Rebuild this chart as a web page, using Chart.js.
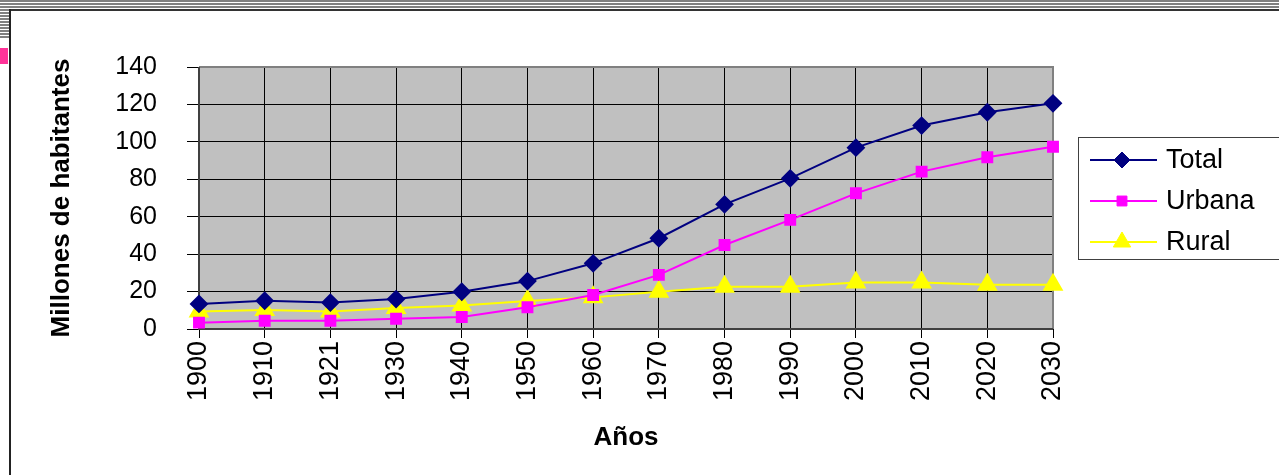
<!DOCTYPE html>
<html>
<head>
<meta charset="utf-8">
<script src="https://cdn.jsdelivr.net/npm/chart.js@4/dist/chart.umd.min.js"></script>
<style>
  html, body { margin: 0; padding: 0; background: #fff; }
  #wrap { position: relative; width: 1279px; height: 475px; overflow: hidden; }
  /* rayas de arriba y marco de la hoja */
  #rayas { position: absolute; left: 0; top: 0; width: 1279px; height: 10px;
    background: repeating-linear-gradient(to bottom, #808080 0, #808080 2px, #fff 2px, #fff 3px); }
  #rayasIzq { position: absolute; left: 0; top: 0; width: 9px; height: 38px;
    background: repeating-linear-gradient(to bottom, #808080 0, #808080 2px, #fff 2px, #fff 3px); }
  #lineaTop { position: absolute; left: 9px; top: 9px; width: 1270px; height: 2px; background: #333; }
  #lineaIzq { position: absolute; left: 9px; top: 9px; width: 2px; height: 466px; background: #222; }
  #rosa { position: absolute; left: 0; top: 48px; width: 8px; height: 16px; background: #ff3399; }
  canvas { position: absolute; left: 0; top: 0; }
</style>
</head>
<body>
<div id="wrap">
  <div id="rayas"></div>
  <div id="rayasIzq"></div>
  <div id="lineaTop"></div>
  <div id="lineaIzq"></div>
  <div id="rosa"></div>
  <canvas id="grafico" width="1279" height="475"></canvas>
</div>
<script>
// Datos del gráfico
const anios = ["1900", "1910", "1921", "1930", "1940", "1950", "1960", "1970", "1980", "1990", "2000", "2010", "2020", "2030"];
const total = [13.4, 15.1, 14.1, 16.0, 19.9, 25.6, 35.1, 48.5, 66.6, 80.5, 96.9, 108.7, 115.8, 120.6];
const urbana = [3.4, 4.4, 4.4, 5.5, 6.4, 11.6, 18.2, 28.9, 44.9, 58.3, 72.5, 84.1, 91.8, 97.4];
const rural = [9.3, 10.2, 9.3, 11.2, 12.5, 15.0, 16.9, 19.9, 22.6, 22.6, 24.8, 24.8, 23.7, 23.6];
const ticksY = [0, 20, 40, 60, 80, 100, 120, 140];

const FUENTE = "'Liberation Sans', Arial, sans-serif";

// Fondo gris del área y borde gris arriba/derecha
const fondoPlot = {
  id: "fondoPlot",
  beforeDraw(chart) {
    const a = chart.chartArea, ctx = chart.ctx;
    ctx.save();
    ctx.fillStyle = "#c0c0c0";
    ctx.fillRect(a.left, a.top, a.right - a.left, a.bottom - a.top);
    ctx.restore();
  },
  beforeDatasetsDraw(chart) {
    const a = chart.chartArea, ctx = chart.ctx;
    ctx.save();
    ctx.strokeStyle = "#808080";
    ctx.lineWidth = 2;
    ctx.beginPath();
    ctx.moveTo(a.left, a.top);
    ctx.lineTo(a.right, a.top);
    ctx.lineTo(a.right, a.bottom);
    ctx.stroke();
    ctx.strokeStyle = "#404040";
    ctx.beginPath();
    ctx.moveTo(a.left, a.top);
    ctx.lineTo(a.left, a.bottom);
    ctx.lineTo(a.right, a.bottom);
    ctx.stroke();
    ctx.restore();
  }
};

// Leyenda dibujada a mano, como la del original (recuadro cortado a la derecha)
const leyenda = {
  id: "leyenda",
  afterDraw(chart) {
    const ctx = chart.ctx;
    ctx.save();
    ctx.strokeStyle = "#404040";
    ctx.lineWidth = 1;
    ctx.strokeRect(1078.5, 137.5, 260, 122);
    chart.data.datasets.forEach(function (ds, i) {
      const y = 160 + i * 41;
      ctx.strokeStyle = ds.borderColor;
      ctx.lineWidth = 2;
      ctx.beginPath();
      ctx.moveTo(1090, y);
      ctx.lineTo(1157, y);
      ctx.stroke();
      ctx.fillStyle = ds.pointBackgroundColor;
      ctx.strokeStyle = ds.pointBorderColor;
      ctx.lineWidth = 1;
      Chart.helpers.drawPoint(ctx, { pointStyle: ds.pointStyle, radius: ds.pointRadius, rotation: 0, borderWidth: 1 }, 1122, y);
      ctx.fillStyle = "#000";
      ctx.font = "27px " + FUENTE;
      ctx.textBaseline = "middle";
      ctx.fillText(ds.label, 1166, y + 1);
    });
    ctx.restore();
  }
};

const ctx = document.getElementById("grafico").getContext("2d");
new Chart(ctx, {
  type: "line",
  data: {
    labels: anios,
    datasets: [
      {
        label: "Total", data: total,
        borderColor: "#000080", backgroundColor: "#000080",
        pointBackgroundColor: "#000080", pointBorderColor: "#000080",
        pointStyle: "rectRot", pointRadius: 8, borderWidth: 2
      },
      {
        label: "Urbana", data: urbana,
        borderColor: "#ff00ff", backgroundColor: "#ff00ff",
        pointBackgroundColor: "#ff00ff", pointBorderColor: "#ff00ff",
        pointStyle: "rect", pointRadius: 7, borderWidth: 2
      },
      {
        label: "Rural", data: rural,
        borderColor: "#ffff00", backgroundColor: "#ffff00",
        pointBackgroundColor: "#ffff00", pointBorderColor: "#ffff00",
        pointStyle: "triangle", pointRadius: 10, borderWidth: 2
      }
    ]
  },
  options: {
    responsive: false,
    animation: false,
    layout: { padding: { left: 46, top: 67, right: 226, bottom: 22 } },
    plugins: { legend: { display: false }, tooltip: { enabled: false } },
    scales: {
      x: {
        offset: false,
        afterFit(s) { s.height = 124; },
        grid: { color: "#000", lineWidth: 1, tickLength: 9, tickColor: "#000" },
        border: { display: false },
        ticks: {
          minRotation: 90, maxRotation: 90, autoSkip: false, padding: 3,
          color: "#000", font: { family: FUENTE, size: 27 }
        },
        title: {
          display: true, text: "Años", color: "#000",
          font: { family: FUENTE, size: 26, weight: "bold" },
          padding: { top: 0, bottom: 0 }
        }
      },
      y: {
        min: 0, max: 140,
        afterFit(s) { s.width = 153; },
        afterBuildTicks(s) { s.ticks = ticksY.map(v => ({ value: v })); },
        grid: { color: "#000", lineWidth: 1, tickLength: 12, tickColor: "#000" },
        border: { display: false },
        ticks: {
          padding: 30, color: "#000", font: { family: FUENTE, size: 25 }
        },
        title: {
          display: true, text: "Millones de habitantes", color: "#000",
          font: { family: FUENTE, size: 26, weight: "bold" },
          padding: { top: 0, bottom: 0 }
        }
      }
    }
  },
  plugins: [fondoPlot, leyenda]
});
</script>
</body>
</html>
